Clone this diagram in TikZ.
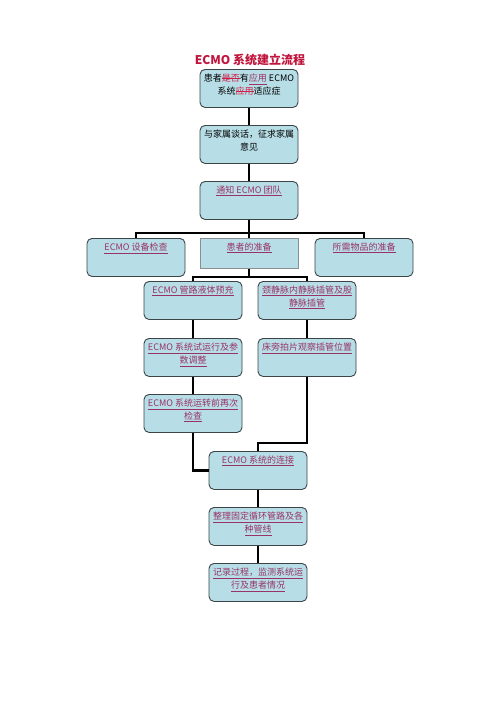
\documentclass[tikz,border=0pt]{standalone}
\usepackage{fontspec}
\usepackage{tikz}
\usetikzlibrary{positioning}
\newfontfamily\cjk{Noto Sans CJK SC}
\definecolor{boxfill}{HTML}{B7DEE6}
\definecolor{boxline}{HTML}{3C4448}
\definecolor{linkpink}{HTML}{993366}
\definecolor{strikered}{HTML}{D0204A}
\definecolor{titlered}{HTML}{C0143C}
\newcommand\flowtxt[2][31pt]{\parbox[c][#1][t]{94pt}{\centering #2}}
\newcommand\hlnk[1]{\textcolor{linkpink}{\underline{#1}}}
\newcommand\strk[1]{\textcolor{strikered}{\setbox0\hbox{#1}\rlap{\rule[0.3em]{\wd0}{0.6pt}}\box0}}
\begin{document}
\begin{tikzpicture}[x=1pt,y=-1pt,
	flow/.style={draw=boxline,fill=boxfill,rounded corners=5pt,line width=0.9pt,
		inner xsep=2pt,inner ysep=4.5pt,anchor=north,font=\cjk\fontsize{9}{13}\selectfont},
	plainbox/.style={flow,rounded corners=0pt,draw=boxline!60},
	wire/.style={draw,line width=2.4pt}]
\useasboundingbox[fill=white] (0,0) rectangle (500,707);

\node[font=\cjk\bfseries\fontsize{12}{14}\selectfont,text=titlered] (title) at (250,60) {ECMO 系统建立流程};

\node[flow] (indic) at (249,69) {\flowtxt[29pt]{患者\strk{是否}有\hlnk{应用} ECMO\\系统\strk{应用}适应症}};
\node[flow] (talk) at (249,125) {\flowtxt[29pt]{与家属谈话，征求家属\\意见}};
\node[flow] (team) at (249,181) {\flowtxt[29pt]{\hlnk{通知 ECMO 团队}}};

\node[flow] (device) at (136,238) {\flowtxt[29pt]{\hlnk{ECMO 设备检查}}};
\node[plainbox] (patient) at (249,238) {\flowtxt[21pt]{\hlnk{患者的准备}}};
\node[flow] (items) at (364,238) {\flowtxt[29pt]{\hlnk{所需物品的准备}}};

\node[flow] (prime) at (193,281) {\flowtxt[29pt]{\hlnk{ECMO 管路液体预充}}};
\node[flow] (cannula) at (307,281) {\flowtxt[29pt]{\hlnk{颈静脉内静脉插管及股}\\\hlnk{静脉插管}}};
\node[flow] (trial) at (193,338) {\flowtxt[29pt]{\hlnk{ECMO 系统试运行及参}\\\hlnk{数调整}}};
\node[flow] (xray) at (307,338) {\flowtxt[29pt]{\hlnk{床旁拍片观察插管位置}}};
\node[flow] (recheck) at (193,394) {\flowtxt[29pt]{\hlnk{ECMO 系统运转前再次}\\\hlnk{检查}}};

\node[flow] (connect) at (258,451) {\flowtxt[29pt]{\hlnk{ECMO 系统的连接}}};
\node[flow] (fixing) at (258,507) {\flowtxt[29pt]{\hlnk{整理固定循环管路及各}\\\hlnk{种管线}}};
\node[flow] (record) at (258,563) {\flowtxt[29pt]{\hlnk{记录过程，监测系统运}\\\hlnk{行及患者情况}}};

% main column
\draw[wire] (indic) -- (talk);
\draw[wire] (talk) -- (team);
\draw[wire] (team.south) -- ++(0,13) coordinate (split);
\draw[wire] (device.north) |- (split) -| (items.north);
\draw[wire] (split) -- (patient.north);

% patient branch
\draw[wire] (patient.south) -- ++(0,8) coordinate (psplit);
\draw[wire] (prime.north) |- (psplit) -| (cannula.north);
\draw[wire] (prime) -- (trial);
\draw[wire] (trial) -- (recheck);
\draw[wire] (cannula) -- (xray);

% merge
\draw[wire] (recheck.south) |- (connect.west);
\draw[wire] (xray.south) |- ([yshift=8pt]connect.north) -- (connect.north);
\draw[wire] (connect) -- (fixing);
\draw[wire] (fixing) -- (record);
\end{tikzpicture}
\end{document}
